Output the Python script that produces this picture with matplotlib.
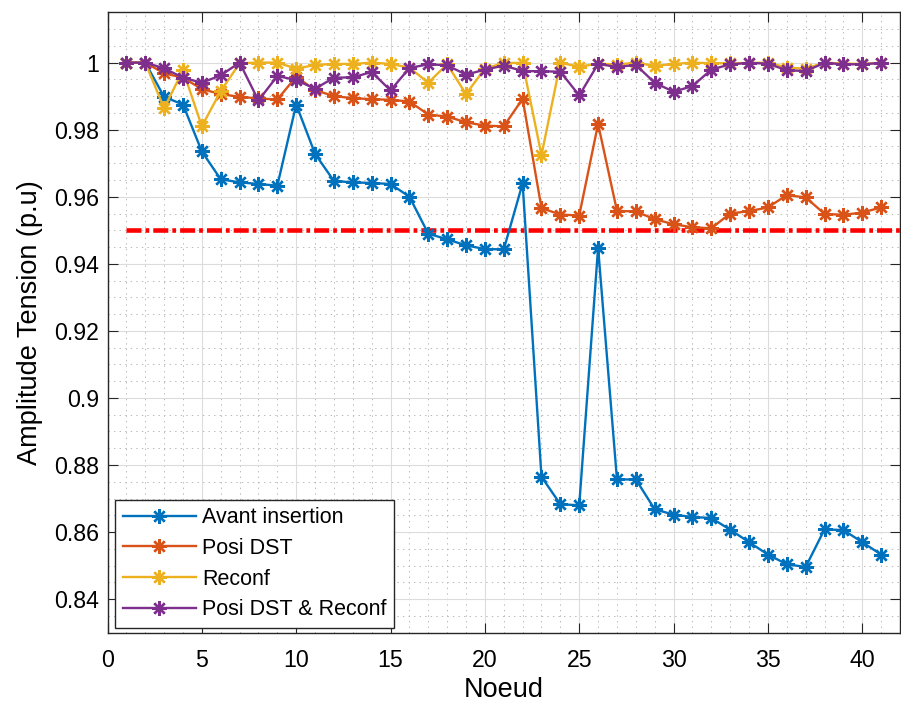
import matplotlib
matplotlib.use("Agg")
import matplotlib.pyplot as plt
import numpy as np

plt.rcParams['font.family'] = ['Liberation Sans', 'DejaVu Sans']
plt.rcParams['lines.scale_dashes'] = False

noeuds = list(range(1, 42))

avant_insertion = [1.0, 1.0, 0.9898, 0.9875, 0.9735, 0.9652, 0.9643, 0.9638, 0.9633, 0.9875,
                   0.9728, 0.9647, 0.9643, 0.9641, 0.9638, 0.9600, 0.9490, 0.9473, 0.9455, 0.9444,
                   0.9443, 0.9640, 0.8765, 0.8683, 0.8680, 0.9448, 0.8757, 0.8757, 0.8668, 0.8652,
                   0.8645, 0.8642, 0.8607, 0.8570, 0.8533, 0.8504, 0.8496, 0.8608, 0.8606, 0.8570,
                   0.8533]

posi_dst = [1.0, 1.0, 0.9968, 0.9955, 0.9921, 0.9906, 0.9898, 0.9893, 0.9890, 0.9958,
            0.9918, 0.9900, 0.9894, 0.9891, 0.9889, 0.9884, 0.9845, 0.9839, 0.9822, 0.9812,
            0.9810, 0.9892, 0.9566, 0.9547, 0.9544, 0.9817, 0.9558, 0.9556, 0.9533, 0.9518,
            0.9509, 0.9506, 0.9550, 0.9557, 0.9568, 0.9605, 0.9598, 0.9549, 0.9546, 0.9553,
            0.9568]

reconf = [1.0, 1.0, 0.9864, 0.9977, 0.9810, 0.9915, 0.9998, 1.0, 1.0, 0.9982,
          0.9993, 0.9996, 0.9996, 1.0, 0.9996, 0.9985, 0.9940, 0.9995, 0.9906, 0.9982,
          0.9999, 0.9999, 0.9724, 0.9999, 0.9988, 0.9997, 0.9994, 1.0, 0.9990, 0.9996,
          1.0, 0.9998, 0.9998, 0.9999, 1.0, 0.9985, 0.9982, 1.0, 0.9997, 0.9996,
          1.0]

posi_dst_reconf = [1.0, 1.0, 0.9983, 0.9955, 0.9940, 0.9962, 1.0, 0.9887, 0.9960, 0.9948,
                   0.9922, 0.9955, 0.9956, 0.9972, 0.9917, 0.9984, 0.9995, 0.9992, 0.9964, 0.9979,
                   0.9991, 0.9975, 0.9974, 0.9973, 0.9902, 0.9996, 0.9987, 0.9993, 0.9940, 0.9913,
                   0.9930, 0.9979, 0.9995, 0.9999, 0.9997, 0.9977, 0.9975, 0.9999, 0.9995, 0.9995,
                   0.9999]

seuil = 0.95
seuil_x = [1, 45]

labels = ["Avant insertion", "Posi DST", "Reconf", "Posi DST & Reconf"]
colors = ["#0072BD", "#D95319", "#EDB120", "#7E2F8E"]
series = [avant_insertion, posi_dst, reconf, posi_dst_reconf]

fig = plt.figure(figsize=(9.01, 7.06), dpi=100)
ax = fig.add_axes([107.5/901, 73.3/706, 792.5/901, 620.4/706])

ax.plot(seuil_x, [seuil, seuil], color='red', lw=3.3, dashes=(10.8, 2.9, 2.7, 2.9),
        solid_capstyle='butt', dash_capstyle='butt', zorder=2)

asterisk = (8, 2, 0)
for vals, lab, col in zip(series, labels, colors):
    ax.plot(noeuds, vals, color=col, lw=1.7, marker=asterisk, markersize=10.5,
            markeredgewidth=1.7, label=lab, zorder=3)

ax.set_xlim(0, 42)
ax.set_ylim(0.83, 1.015)
ax.set_xticks(np.arange(0, 41, 5))
ax.set_yticks(np.arange(0.84, 1.001, 0.02))
ax.set_yticklabels(['0.84', '0.86', '0.88', '0.9', '0.92', '0.94', '0.96', '0.98', '1'])
ax.set_xticks(np.arange(0, 43, 1), minor=True)
ax.set_yticks(np.arange(0.83, 1.0151, 0.005), minor=True)

ax.grid(True, which='major', color='#dcdcdc', lw=0.8, zorder=0)
ax.grid(True, which='minor', color='#b8b8b8', lw=0.7, linestyle=(0, (1, 3)), zorder=0)
ax.set_axisbelow(True)

ax.tick_params(which='major', direction='in', length=7, width=0.8, color='#262626',
               top=True, right=True, labelsize=16.7, labelcolor='black')
ax.tick_params(axis='x', which='major', pad=12)
ax.tick_params(axis='y', which='major', pad=6)
ax.tick_params(which='minor', length=0, top=True, right=True)
for s in ax.spines.values():
    s.set_color('#262626')
    s.set_linewidth(1.0)

ax.set_xlabel('Noeud', fontsize=19.5, labelpad=3)
ax.set_ylabel('Amplitude Tension (p.u)', fontsize=19.5, labelpad=8)

leg = ax.legend(loc='lower left', bbox_to_anchor=(0.0095, 0.008), borderaxespad=0,
                fontsize=15.5, handlelength=3.4, handletextpad=0.3, labelspacing=0.45,
                borderpad=0.35, fancybox=False, framealpha=1, edgecolor='#262626')
leg.get_frame().set_linewidth(1.0)

fig.savefig('out.png', dpi=100)
